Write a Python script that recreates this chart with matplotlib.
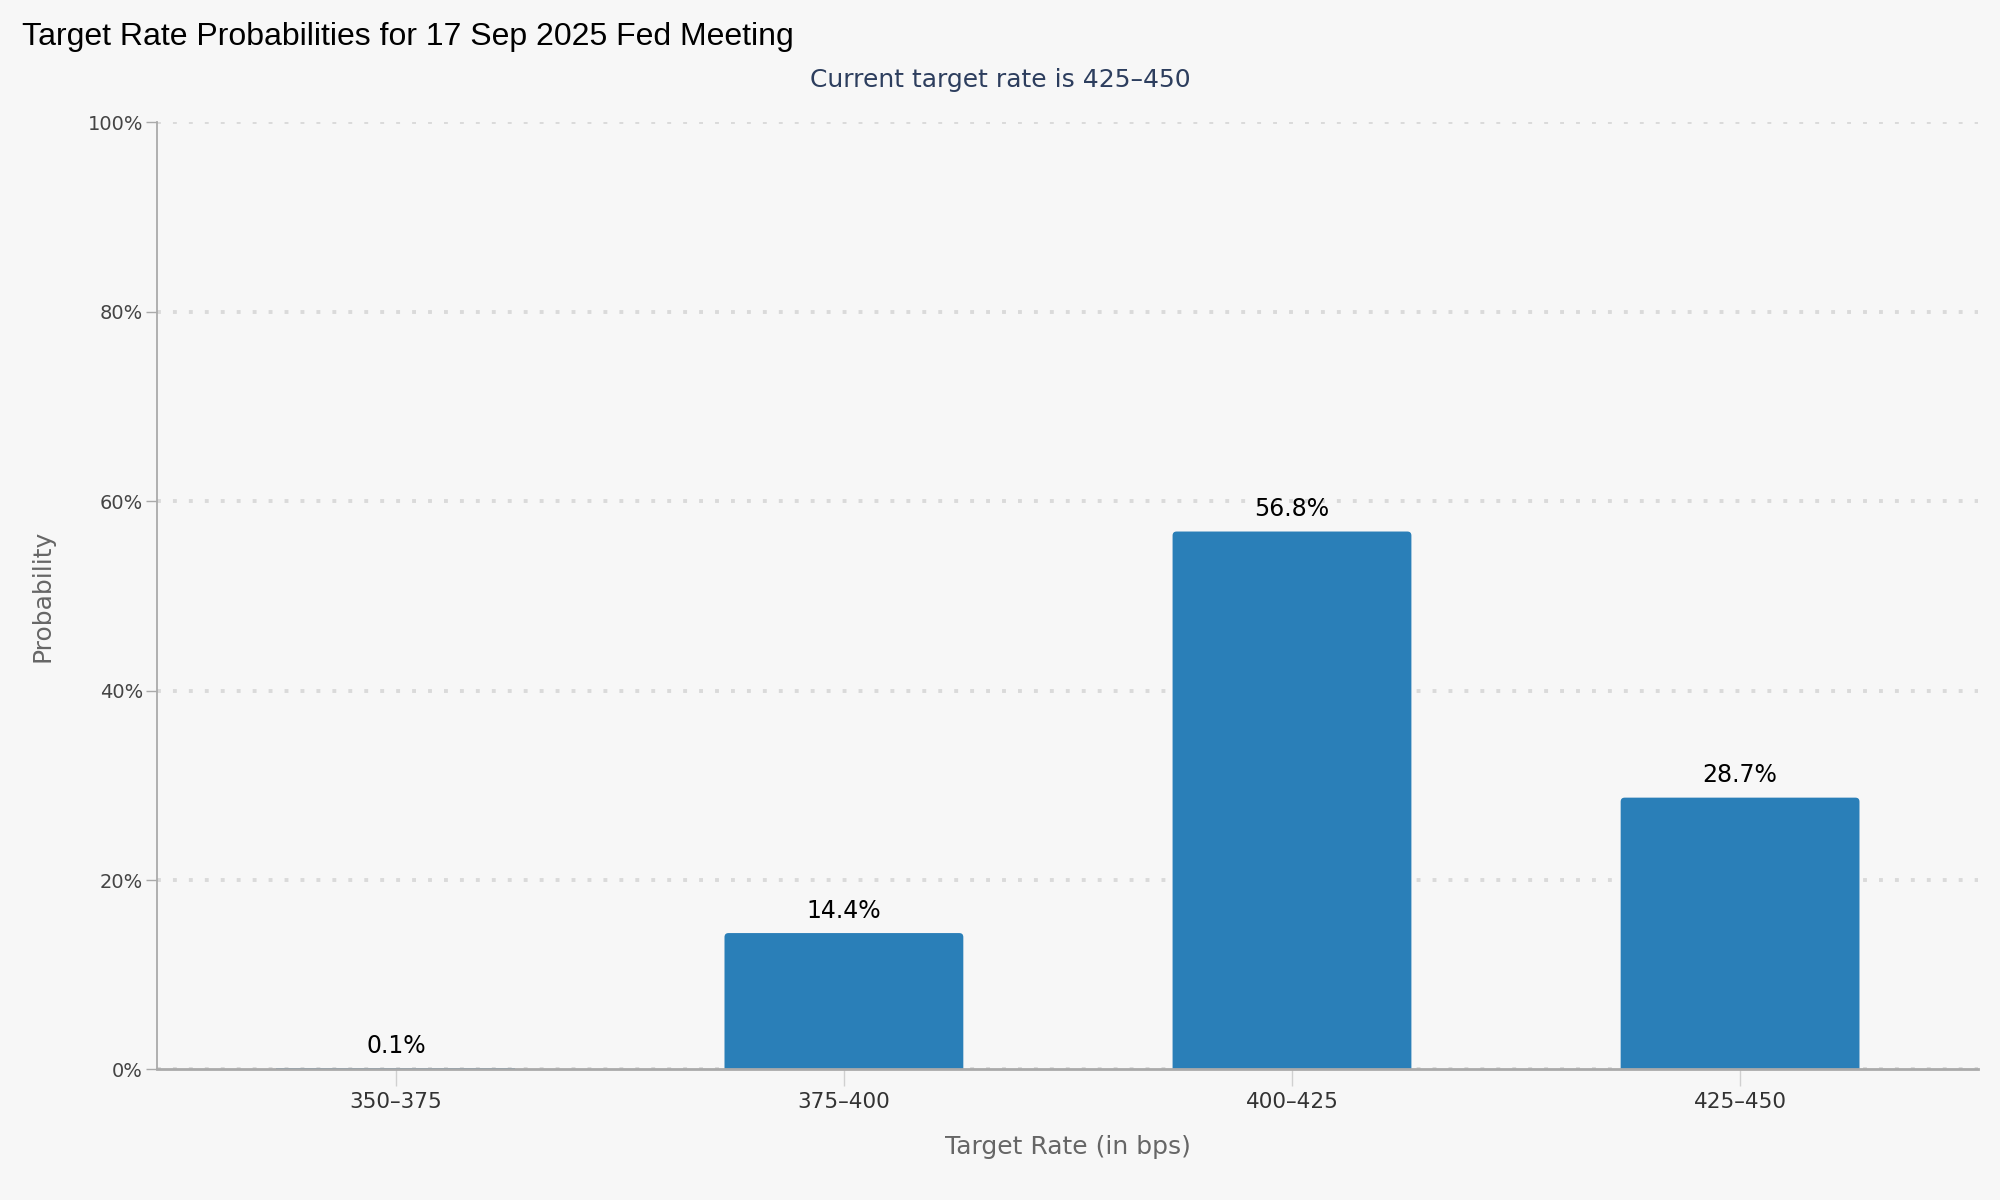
import matplotlib.pyplot as plt
from matplotlib.patches import FancyBboxPatch
from matplotlib.ticker import FuncFormatter

# Fed meeting target rate probabilities
rate_ranges = ['350–375', '375–400', '400–425', '425–450']
probabilities = [0.1, 14.4, 56.8, 28.7]
y_ticks = [0, 20, 40, 60, 80, 100]

bg = '#f7f7f7'
bar_color = '#2a7fb8'

fig = plt.figure(figsize=(20, 12), dpi=100, facecolor=bg)
ax = fig.add_axes([0.0785, 0.1088, 0.9105, 0.7892], facecolor=bg)

ax.set_xlim(-0.533, 3.531)
ax.set_ylim(0, 100)

x = list(range(len(rate_ranges)))
bars = ax.bar(x, probabilities, width=0.533, color=bar_color, zorder=3)

# swap plain rectangles for ones with slightly rounded corners
aspect = (100 / 947) / (4.064 / 1821)
for rect in bars:
    x0, w, h = rect.get_x(), rect.get_width(), rect.get_height()
    if h < 1:
        continue
    rect.set_visible(False)
    ax.add_patch(FancyBboxPatch((x0, -2), w, h + 2,
                                boxstyle='round,pad=0,rounding_size=0.009',
                                mutation_aspect=aspect, facecolor=bar_color,
                                edgecolor='none', zorder=3, clip_on=True))

for xi, p in zip(x, probabilities):
    ax.annotate(f'{p}%', (xi, p), xytext=(0, 7.5), textcoords='offset points',
                ha='center', va='bottom', fontsize=17, color='#000000',
                family='DejaVu Sans', zorder=4)

ax.set_xticks(x)
ax.set_xticklabels(rate_ranges, fontsize=15.5, color='#333333')
ax.set_yticks(y_ticks)
ax.yaxis.set_major_formatter(FuncFormatter(lambda v, _: f'{v:.0f}%'))
ax.tick_params(axis='y', labelsize=14, labelcolor='#444444', length=8,
               width=1, color='#aaaaaa', pad=2)
ax.tick_params(axis='x', length=12, width=1, color='#d0d0d0', pad=4)

ax.grid(axis='y', linestyle=(0, (1, 3.1)), linewidth=2.8, color='#dadada', zorder=0)
ax.set_axisbelow(True)

for side in ['top', 'right']:
    ax.spines[side].set_visible(False)
ax.spines['left'].set_color('#aaaaaa')
ax.spines['left'].set_linewidth(1.3)
ax.spines['bottom'].set_color('#aaaaaa')
ax.spines['bottom'].set_linewidth(2)
ax.spines['bottom'].set_zorder(5)

ax.set_ylabel('Probability', fontsize=18, color='#666666', labelpad=24)
ax.set_xlabel('Target Rate (in bps)', fontsize=18, color='#666666', labelpad=17)

fig.text(0.011, 0.969, 'Target Rate Probabilities for 17 Sep 2025 Fed Meeting',
         fontsize=23, family='Liberation Sans', color='#000000', va='center', ha='left')
fig.text(0.5, 0.9335, 'Current target rate is 425–450', fontsize=18,
         color='#2d3e5e', ha='center', va='center')

fig.savefig('out.png', dpi=100, facecolor=bg)
